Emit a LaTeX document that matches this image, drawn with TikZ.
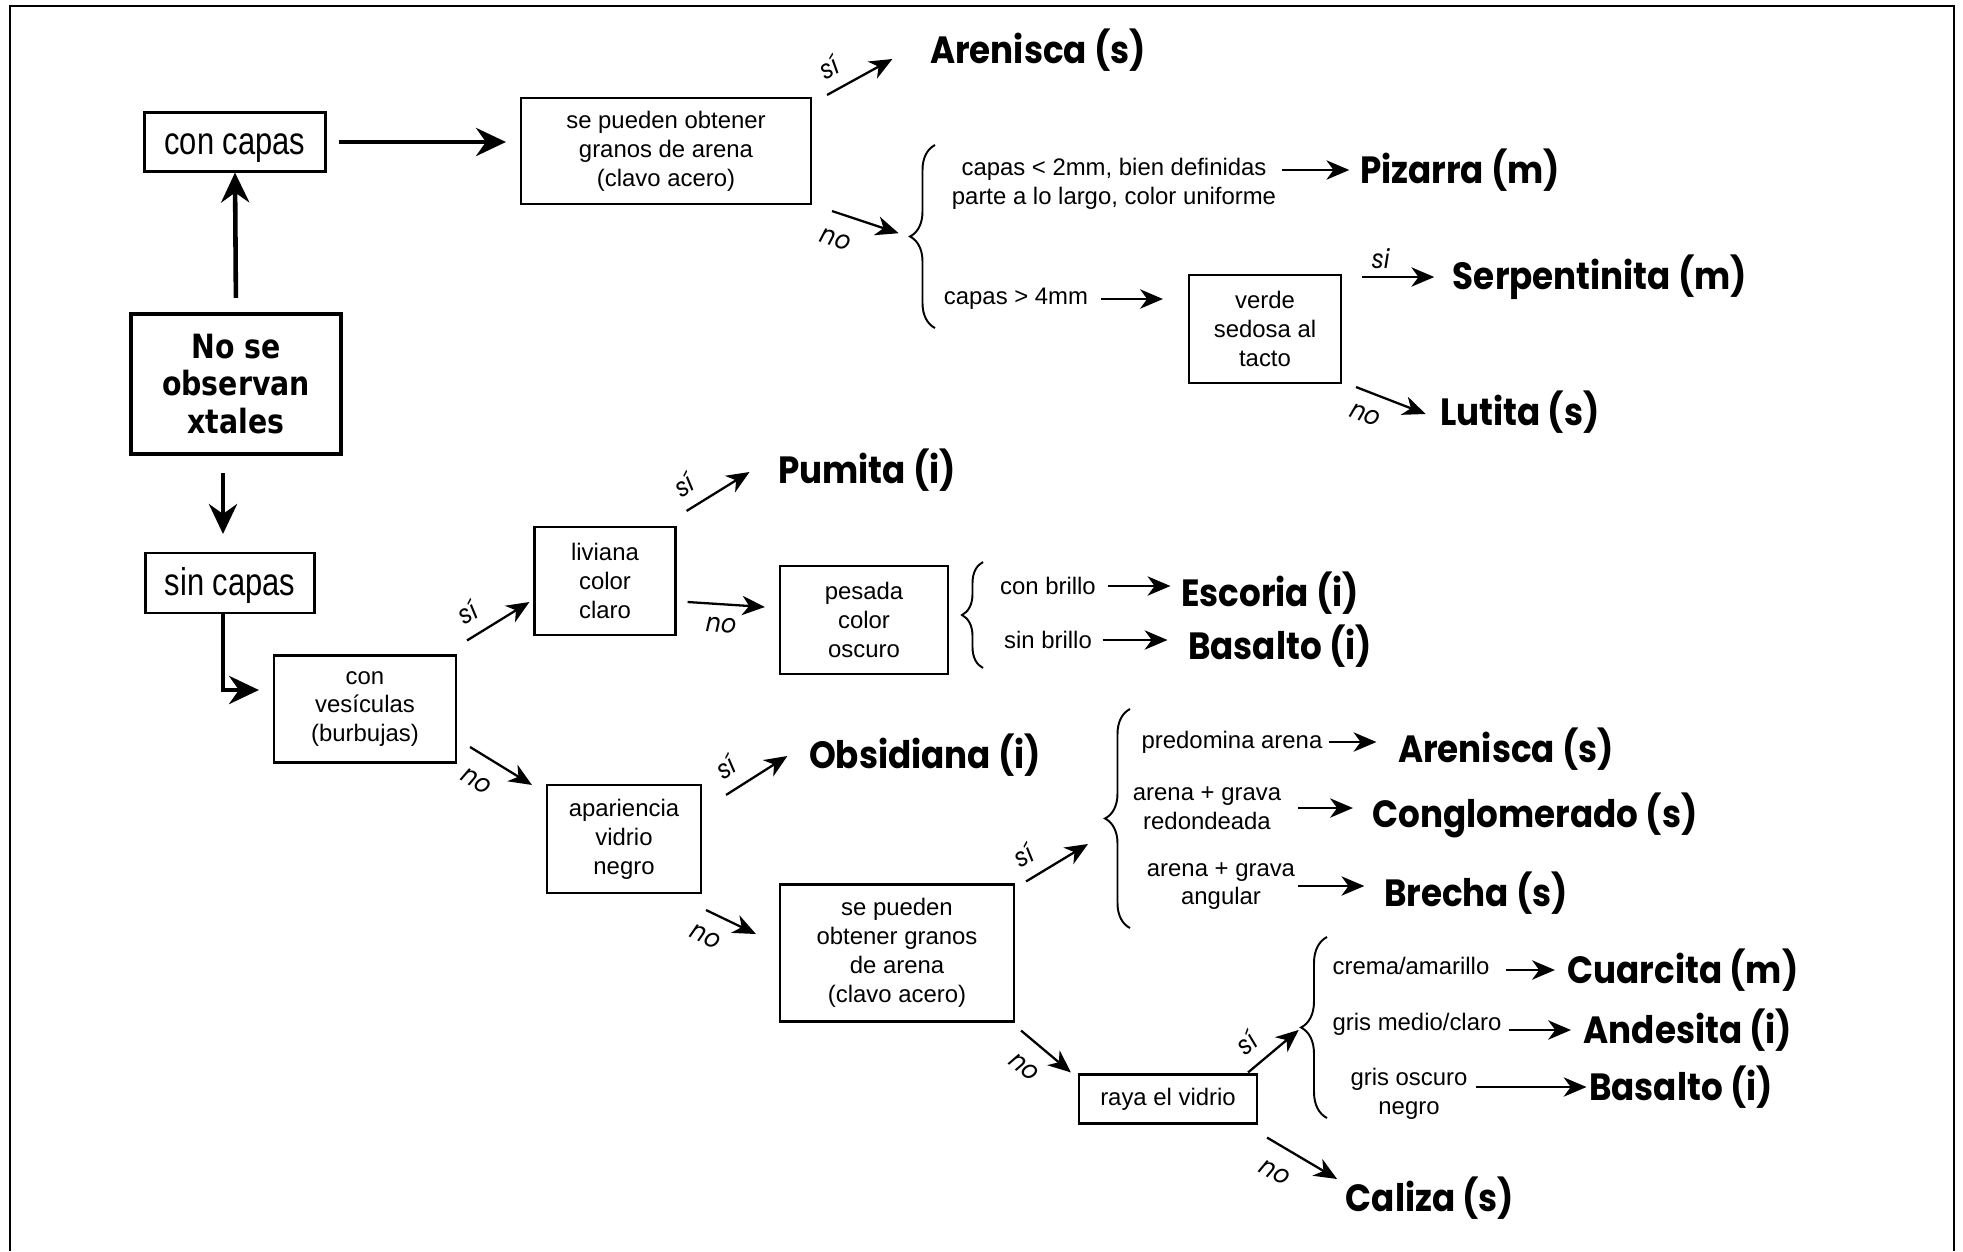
\documentclass[tikz,border=0pt]{standalone}
\usepackage{fontspec}
\setmainfont{Liberation Sans}
\newfontfamily\condfont[FakeStretch=0.8]{Liberation Sans}
\newfontfamily\headfont[FakeStretch=0.85]{DejaVu Sans}
\newfontfamily\rockfont[FakeStretch=0.9]{Poppins}
\usetikzlibrary{arrows.meta,decorations.pathreplacing}
\begin{document}
\begin{tikzpicture}[x=0.1mm,y=-0.1mm,
  box/.style={draw,line width=0.6pt,align=center,inner sep=0pt,font=\fontsize{6.8}{8.2}\selectfont},
  txt/.style={align=center,inner sep=0pt,font=\fontsize{6.8}{8.2}\selectfont},
  res/.style={inner sep=0pt,font=\rockfont\bfseries\fontsize{10.8}{12}\selectfont},
  lbl/.style={inner sep=3.5pt,font=\rockfont\itshape\fontsize{7.5}{9}\selectfont},
  arr/.style={line width=0.65pt,-{Stealth[length=6.5pt,width=5.5pt,inset=2pt]}},
  thk/.style={line width=1.3pt,-{Stealth[length=8.5pt,width=8pt,inset=2.8pt]}},
  brc/.style={line width=0.55pt,decorate,decoration={brace,amplitude=#1}}]
\useasboundingbox (0,0) rectangle (1963,1251);
\draw[line width=0.8pt] (10,1251) -- (10,6) -- (1954,6) -- (1954,1251);
% Start - no crystals
\node[box,line width=1.2pt,font=\headfont\bfseries\fontsize{9.5}{10.6}\selectfont,minimum width=21mm,minimum height=14mm] (nose) at (236,384) {No se\\observan\\xtales};
% Branch 1 - with layers
\node[box,font=\condfont\fontsize{11}{13}\selectfont,text height=1.3ex,text depth=0pt,minimum width=18.1mm,minimum height=5.9mm] (concapas) at (235,142) {con capas};
\node[box,minimum width=29mm,minimum height=10.6mm] (sepueden) at (666,151) {se pueden obtener\\granos de arena\\(clavo acero)};
\node[res] (arenisca) at (1038,50) {Arenisca (s)};
\node[txt] (capasdos) at (1114,184) {capas < 2mm, bien definidas\\parte a lo largo, color uniforme};
\node[res] (pizarra) at (1460,170) {Pizarra (m)};
\node[txt] (capascuatro) at (1016,299) {capas > 4mm};
\node[box,minimum width=15.2mm,minimum height=10.8mm] (verde) at (1265,329) {verde\\sedosa al\\tacto};
\node[res] (serpentinita) at (1600,277) {Serpentinita (m)};
\node[res] (lutita) at (1520,412) {Lutita (s)};
\draw[brc=2.5mm] (935,328) -- (935,145);
\coordinate (bone) at (910,237);
\draw[thk,shorten <=1.4mm] (nose.north) -- (concapas.south);
\draw[thk,shorten <=1.2mm,shorten >=1.4mm] (concapas.east) -- (concapas.east -| sepueden.west);
\draw[arr] ([shift={(15,-2)}]sepueden.north east) -- node[lbl,pos=0.2,above,sloped] {sí} ([shift={(-37,9)}]arenisca.west);
\draw[arr,shorten >=1.2mm] ([shift={(20,6)}]sepueden.south east) -- node[lbl,pos=0.15,below,sloped,inner sep=5pt] {no} (bone);
\draw[arr,shorten <=0.5mm,shorten >=1mm] (pizarra.west -| capasdos.east) -- (pizarra.west);
\draw[arr,shorten <=1.2mm,shorten >=2.5mm] (capascuatro.east) -- (capascuatro.east -| verde.west);
\draw[arr,shorten <=2mm,shorten >=1.8mm] (serpentinita.west -| verde.east) -- node[lbl,pos=0.35,above,inner sep=2pt] {si} (serpentinita.west);
\draw[arr] ([shift={(14,3)}]verde.south east) -- node[lbl,pos=0.25,below,sloped,inner sep=4pt] {no} ([shift={(-14,2)}]lutita.west);
% Branch 2 - without layers
\node[box,font=\condfont\fontsize{11}{13}\selectfont,text height=1.3ex,text depth=0pt,minimum width=16.9mm,minimum height=6mm] (sincapas) at (230,583) {sin capas};
\node[box,minimum width=18.2mm,minimum height=10.7mm] (vesiculas) at (365,709) {con\\vesículas\\(burbujas)};
\node[box,minimum width=14.1mm,minimum height=10.8mm] (liviana) at (605,581) {liviana\\color\\claro};
\node[res] (pumita) at (867,470) {Pumita (i)};
\node[box,minimum width=16.8mm,minimum height=10.8mm] (pesada) at (864,620) {pesada\\color\\oscuro};
\node[txt] (conbrillo) at (1048,586) {con brillo};
\node[txt] (sinbrillo) at (1048,640) {sin brillo};
\node[res] (escoria) at (1270,593) {Escoria (i)};
\node[res] (basaltouno) at (1280,646) {Basalto (i)};
\draw[brc=2.1mm] (983,668) -- (983,562);
\draw[thk,shorten <=1.7mm,shorten >=1.8mm] ([shift={(-13,0)}]nose.south) -- ([shift={(-7,0)}]sincapas.north);
\draw[thk,shorten >=1.4mm] ([shift={(-7,0)}]sincapas.south) |- ([shift={(0,-19)}]vesiculas.west);
\draw[arr] ([shift={(10,-14)}]vesiculas.north east) -- node[lbl,pos=0.2,above,sloped] {sí} ([shift={(-4,21)}]liviana.west);
\draw[arr] ([shift={(10,-15)}]liviana.north east) -- node[lbl,pos=0.15,above,sloped] {sí} ([shift={(-28,2)}]pumita.west);
\draw[arr] ([shift={(11,21)}]liviana.east) -- node[lbl,pos=0.45,below,sloped] {no} ([shift={(-14,-13)}]pesada.west);
\draw[arr,shorten <=1.1mm,shorten >=1mm] (conbrillo.east) -- (conbrillo.east -| escoria.west);
\draw[arr,shorten <=1mm,shorten >=2mm] (sinbrillo.east) -- (sinbrillo.east -| basaltouno.west);
% Branch 3 - no vesicles
\node[box,minimum width=15.4mm,minimum height=10.8mm] (apariencia) at (624,839) {apariencia\\vidrio\\negro};
\node[res] (obsidiana) at (925,755) {Obsidiana (i)};
\node[box,minimum width=23.4mm,minimum height=13.7mm] (sepuedendos) at (897,953) {se pueden\\obtener granos\\de arena\\(clavo acero)};
\node[txt] (predomina) at (1232,742) {predomina arena};
\node[res] (areniscados) at (1506,749) {Arenisca (s)};
\node[txt] (redondeada) at (1207,808) {arena + grava\\redondeada};
\node[res] (conglomerado) at (1535,815) {Conglomerado (s)};
\node[txt] (angular) at (1221,886) {arena + grava\\angular};
\node[res] (brecha) at (1476,893) {Brecha (s)};
\node[box,minimum width=17.8mm,minimum height=4.9mm] (raya) at (1168,1099) {raya el vidrio};
\node[txt] (crema) at (1411,966) {crema/amarillo};
\node[res] (cuarcita) at (1683,970) {Cuarcita (m)};
\node[txt] (grismedio) at (1417,1024) {gris medio/claro};
\node[res] (andesita) at (1688,1030) {Andesita (i)};
\node[txt] (grisoscuro) at (1409,1094) {gris oscuro\\negro};
\node[res] (basaltodos) at (1681,1087) {Basalto (i)};
\node[res] (caliza) at (1430,1198) {Caliza (s)};
\draw[brc=2.5mm] (1130,928) -- (1130,709);
\coordinate (bthree) at (1105,818);
\draw[brc=2.6mm] (1327,1118) -- (1327,937);
\coordinate (bfour) at (1301,1028);
\draw[arr] ([shift={(13,38)}]vesiculas.east) -- node[lbl,pos=0.32,below,sloped,inner sep=5pt] {no} ([shift={(-14,1)}]apariencia.north west);
\draw[arr] ([shift={(24,11)}]apariencia.north east) -- node[lbl,pos=0.2,above,sloped] {sí} ([shift={(-21,1)}]obsidiana.west);
\draw[arr] ([shift={(4,16)}]apariencia.south east) -- node[lbl,pos=0.2,below,sloped,inner sep=4.5pt] {no} ([shift={(-23,-19)}]sepuedendos.west);
\draw[arr] ([shift={(11,-2)}]sepuedendos.north east) -- node[lbl,pos=0.15,above,sloped] {sí} ([shift={(-17,26)}]bthree);
\draw[arr] ([shift={(6,8)}]sepuedendos.south east) -- node[lbl,pos=0.4,below,sloped,inner sep=5pt] {no} ([shift={(-7,-1)}]raya.north west);
\draw[arr,shorten >=0.3mm] ([shift={(-10,-1)}]raya.north east) -- node[lbl,pos=0.25,above,sloped] {sí} (bfour);
\draw[arr] ([shift={(9,13)}]raya.south east) -- node[lbl,pos=0.3,below,sloped,inner sep=5pt] {no} ([shift={(-8,-19)}]caliza.west);
\draw[arr,shorten <=0.6mm,shorten >=2.1mm] (predomina.east) -- (predomina.east -| areniscados.west);
\draw[arr,shorten <=1.6mm,shorten >=1.9mm] (redondeada.east) -- (redondeada.east -| conglomerado.west);
\draw[arr,shorten <=0.2mm,shorten >=1.9mm] (angular.east) -- (angular.east -| brecha.west);
\draw[arr,shorten <=1.6mm,shorten >=1.2mm] (cuarcita.west -| crema.east) -- (cuarcita.west);
\draw[arr,shorten <=0.7mm,shorten >=1.2mm] (andesita.west -| grismedio.east) -- (andesita.west);
\draw[arr,shorten <=0.8mm,shorten >=0.2mm] (basaltodos.west -| grisoscuro.east) -- (basaltodos.west);
\end{tikzpicture}
\end{document}
